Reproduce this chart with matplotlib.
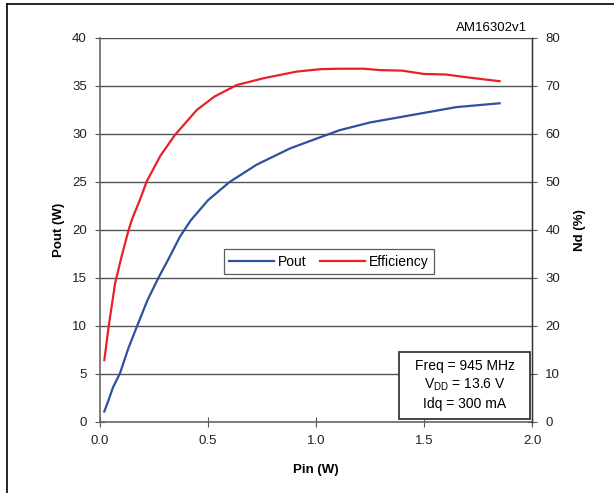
import matplotlib
matplotlib.use("Agg")
import matplotlib.pyplot as plt
from matplotlib.lines import Line2D
from matplotlib.patches import Rectangle

plt.rcParams['font.family'] = ['Liberation Sans', 'DejaVu Sans']

pin_pout = [0.02, 0.04, 0.06, 0.093, 0.13, 0.17, 0.22, 0.27, 0.32, 0.37, 0.42, 0.50, 0.60, 0.725, 0.88, 1.00, 1.11, 1.25, 1.40, 1.50, 1.65, 1.75, 1.85]
pout     = [1.1, 2.3, 3.6, 5.1, 7.6, 9.9, 12.7, 15.0, 17.1, 19.3, 21.0, 23.1, 25.0, 26.8, 28.5, 29.5, 30.4, 31.2, 31.8, 32.2, 32.8, 33.0, 33.2]

pin_eff = [0.02, 0.025, 0.04, 0.07, 0.10, 0.13, 0.147, 0.185, 0.216, 0.28, 0.347, 0.448, 0.53, 0.633, 0.756, 0.91, 1.02, 1.10, 1.22, 1.30, 1.40, 1.50, 1.60, 1.70, 1.85]
eff     = [12.9, 14.6, 19.9, 28.9, 34.5, 39.6, 42.1, 46.3, 50.1, 55.5, 59.8, 65.0, 67.8, 70.2, 71.6, 73.0, 73.5, 73.6, 73.6, 73.3, 73.2, 72.5, 72.4, 71.8, 71.0]

x_ticks = [0.0, 0.5, 1.0, 1.5, 2.0]
y_left_ticks = [0, 5, 10, 15, 20, 25, 30, 35, 40]
y_right_ticks = [0, 10, 20, 30, 40, 50, 60, 70, 80]

fig = plt.figure(figsize=(6.14, 4.93), dpi=100)
ax = fig.add_axes([100/614, 1-422/493, 432/614, 384/493])
ax2 = ax.twinx()

blue = '#2f4f9f'
red = '#e8202a'
l1, = ax.plot(pin_pout, pout, color=blue, lw=1.6, label='Pout')
l2, = ax2.plot(pin_eff, eff, color=red, lw=1.6, label='Efficiency')

ax.set_xlim(0, 2.0)
ax.set_ylim(0, 40)
ax2.set_ylim(0, 80)
ax.set_xticks(x_ticks)
ax.set_xticklabels([f'{v:.1f}' for v in x_ticks])
ax.set_yticks(y_left_ticks)
ax2.set_yticks(y_right_ticks)

for y in y_left_ticks[1:]:
    ax.axhline(y, color='#555555', lw=1.0, zorder=0)

for a in (ax, ax2):
    a.spines['top'].set_visible(False)
    a.tick_params(direction='inout', length=7, width=0.8, color='#555555', labelsize=9.5, colors='#222222')
for s in ['left', 'bottom']:
    ax.spines[s].set_color('#666666')
    ax.spines[s].set_linewidth(1.2)
ax2.spines['right'].set_color('#333333')
ax2.spines['right'].set_linewidth(1.0)
ax2.spines['left'].set_visible(False)
ax2.spines['bottom'].set_visible(False)
ax.tick_params(axis='y', pad=6)
ax.tick_params(axis='x', pad=6)
ax2.tick_params(axis='y', pad=6)

ax.set_xlabel('Pin (W)', fontsize=9.5, fontweight='bold', labelpad=12)
ax.set_ylabel('Pout (W)', fontsize=9.5, fontweight='bold', labelpad=5)
ax2.set_ylabel('Nd (%)', fontsize=9.5, fontweight='bold', labelpad=10)

leg = ax.legend(handles=[l1, l2], loc='center', bbox_to_anchor=(329/614, 1-261.5/493),
                bbox_transform=fig.transFigure, ncol=2, fontsize=10, frameon=True,
                fancybox=False, edgecolor='#333333', handlelength=3.2, handletextpad=0.3,
                columnspacing=1.0, borderpad=0.4)
leg.get_frame().set_linewidth(0.9)

fig.add_artist(Rectangle((399/614, 1-419/493), 131/614, 67/493, transform=fig.transFigure,
                         fc='white', ec='#2f3f2f', lw=1.3, zorder=9))
fig.text(465/614, 1-385/493, 'Freq = 945 MHz\nV$_{\\mathregular{DD}}$ = 13.6 V\nIdq = 300 mA',
         ha='center', va='center', fontsize=10, linespacing=1.3, zorder=10)

fig.text(527/614, 1-28/493, 'AM16302v1', ha='right', va='center', fontsize=9.5)

fig.add_artist(Line2D([7/614, 1], [1-4/493, 1-4/493], transform=fig.transFigure, color='black', lw=1.2))
fig.add_artist(Line2D([7/614, 7/614], [0, 1-4/493], transform=fig.transFigure, color='black', lw=1.2))

fig.savefig('out.png', dpi=100)
